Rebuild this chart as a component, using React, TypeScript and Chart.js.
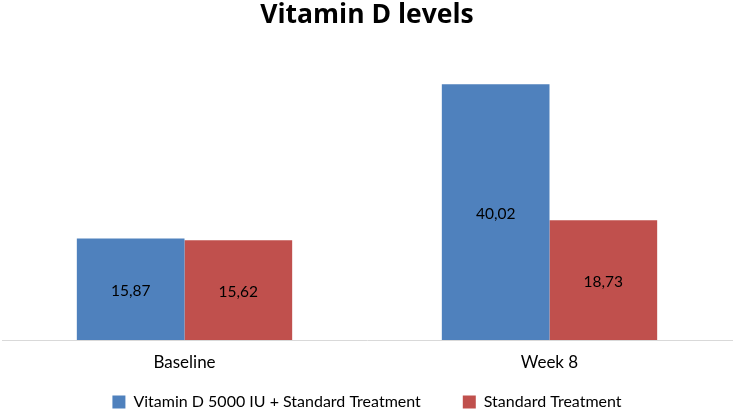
import React, { useEffect, useRef } from "react";
import { Chart, registerables } from "chart.js";

Chart.register(...registerables);

const categories = ["Baseline", "Week 8"];
const vitaminDSeries = [15.87, 40.02];
const standardSeries = [15.62, 18.73];
const seriesNames = ["Vitamin D 5000 IU + Standard Treatment", "Standard Treatment"];
const titleText = "Vitamin D levels";

const FONT = "Lato, 'Open Sans', sans-serif";

const valueLabels = {
  id: "valueLabels",
  afterDatasetsDraw(chart: any) {
    const ctx = chart.ctx;
    ctx.save();
    ctx.font = `15.5px ${FONT}`;
    ctx.fillStyle = "#000";
    ctx.textAlign = "center";
    ctx.textBaseline = "middle";
    chart.data.datasets.forEach((ds: any, i: number) => {
      const meta = chart.getDatasetMeta(i);
      meta.data.forEach((bar: any, j: number) => {
        const v = ds.data[j] as number;
        const y = (bar.y + bar.base) / 2 + 2;
        ctx.fillText(v.toFixed(2).replace(".", ","), bar.x, y);
      });
    });
    ctx.restore();
  },
};

// Keeps wide horizontal gaps between legend items while placing the legend
// tightly under the axis labels.
const legendSpacing = {
  id: "legendSpacing",
  beforeLayout(chart: any) {
    const lg = chart.legend;
    if (lg && !lg.__patched) {
      const orig = lg.fit.bind(lg);
      lg.fit = function () {
        orig();
        this.height = 33.6;
      };
      lg.__patched = true;
    }
  },
  afterLayout(chart: any) {
    const lg = chart.legend;
    if (lg) {
      lg.top = 352;
      lg.bottom = chart.height;
    }
  },
};

export default function App() {
  const ref = useRef<HTMLCanvasElement>(null);
  useEffect(() => {
    if (!ref.current) return;
    const chart = new Chart(ref.current, {
      type: "bar",
      data: {
        labels: categories,
        datasets: [
          {
            label: seriesNames[0],
            data: vitaminDSeries,
            backgroundColor: "#4F81BD",
            borderWidth: 0,
          },
          {
            label: seriesNames[1],
            data: standardSeries,
            backgroundColor: "#C0504D",
            borderWidth: 0,
          },
        ],
      },
      options: {
        animation: false,
        responsive: false,
        maintainAspectRatio: false,
        layout: { padding: { left: 2, right: 2, top: 0, bottom: 2 } },
        datasets: { bar: { categoryPercentage: 0.59, barPercentage: 1.0 } },
        scales: {
          x: {
            grid: { display: false },
            border: { display: true, color: "#d9d9d9", width: 1 },
            ticks: { color: "#000", font: { family: FONT, size: 17 }, padding: 4 },
          },
          y: {
            display: false,
            min: 0,
            max: 44,
          },
        },
        plugins: {
          title: {
            display: true,
            text: titleText,
            color: "#000",
            font: { family: "'Open Sans', sans-serif", size: 26.5, weight: "bold" },
            padding: { top: 0, bottom: 27 },
          },
          legend: {
            position: "bottom",
            labels: {
              color: "#000",
              font: { family: FONT, size: 16 },
              boxWidth: 13,
              boxHeight: 13,
              padding: 42,
            },
          },
          tooltip: { enabled: false },
        },
      },
      plugins: [valueLabels, legendSpacing],
    });
    return () => chart.destroy();
  }, []);
  return (
    <div style={{ position: "fixed", left: 0, top: 0, width: 734, height: 412, background: "#fff" }}>
      <canvas ref={ref} width={734} height={412} />
    </div>
  );
}
